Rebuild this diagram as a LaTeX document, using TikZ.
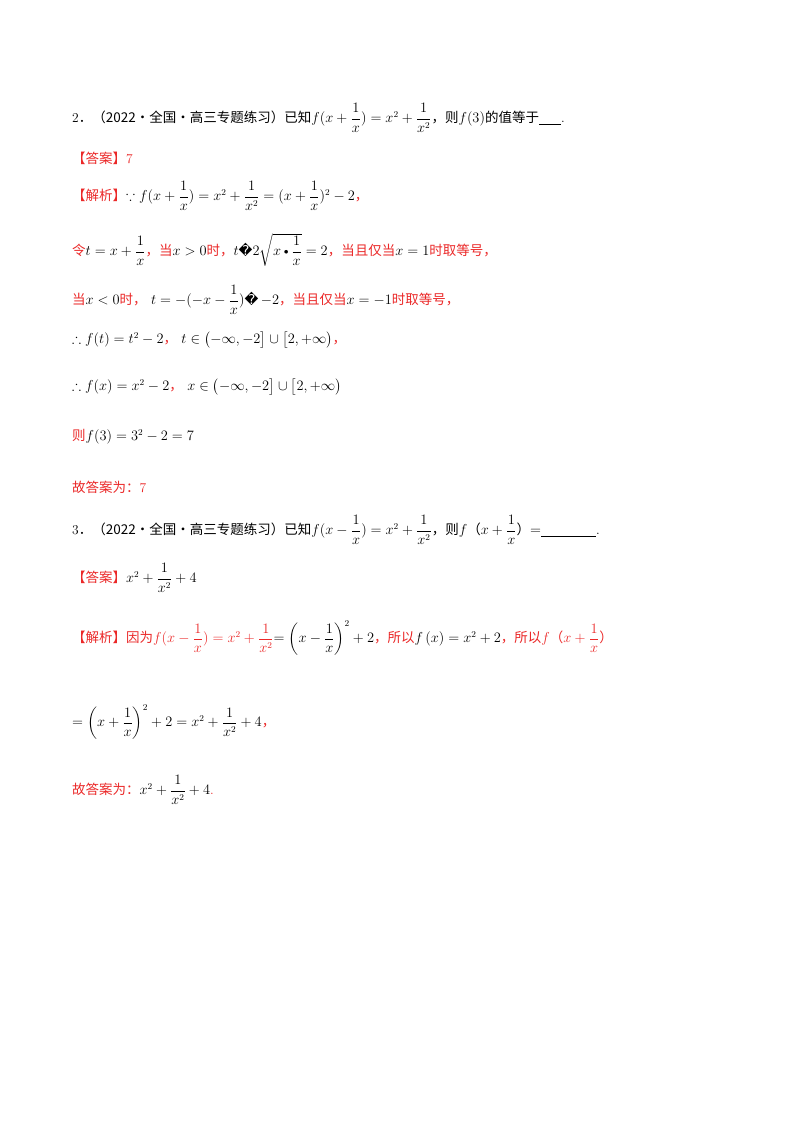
\documentclass[tikz,border=0pt]{standalone}
\usepackage{amsmath,amssymb}
\usepackage{fontspec}
\newfontfamily\cjk{Noto Sans CJK SC}
\newfontfamily\dv{DejaVu Sans}
\definecolor{ans}{RGB}{235,40,40}
\newcommand{\zh}[1]{{\cjk #1}}
\begin{document}
\begin{tikzpicture}[x=1pt,y=-1pt,
  ln/.style={anchor=west,inner sep=0pt,font=\fontsize{13.5}{16}\selectfont},
  rd/.style={ln,text=ans}]
\useasboundingbox[fill=white] (0,0) rectangle (800,1132);
\node[ln] (l1) at (72,118) {2\zh{．（2022·全国·高三专题练习）已知}$f(x+\dfrac1x)=x^2+\dfrac1{x^2}$\zh{，则}$f(3)$\zh{的值等于}\underline{\hspace{22pt}}.};
\node[rd] (l2) at (72,158) {\zh{【答案】}7};
\node[rd] (l3) at (72,196) {\zh{【解析】}\textcolor{black}{$\because f(x+\dfrac1x)=x^2+\dfrac1{x^2}=(x+\dfrac1x)^2-2$}\zh{，}};
\node[rd] (l4) at (72,250) {\zh{令}\textcolor{black}{$t=x+\dfrac1x$}\zh{，当}\textcolor{black}{$x>0$}\zh{时，}\textcolor{black}{$t${\dv �}$2\sqrt{x\mbox{\textbullet}\dfrac1x}=2$}\zh{，当且仅当}\textcolor{black}{$x=1$}\zh{时取等号，}};
\node[rd] (l5) at (72,300) {\zh{当}\textcolor{black}{$x<0$}\zh{时，}\ \textcolor{black}{$t=-(-x-\dfrac1x)${\dv �}$\,-2$}\zh{，当且仅当}\textcolor{black}{$x=-1$}\zh{时取等号，}};
\node[ln] (l6) at (72,340) {$\therefore f(t)=t^2-2$\textcolor{ans}{\zh{，}}\ $t\in\bigl(-\infty,-2\bigr]\cup\bigl[2,+\infty\bigr)$\textcolor{ans}{\zh{，}}};
\node[ln] (l7) at (72,387) {$\therefore f(x)=x^2-2$\textcolor{ans}{\zh{，}}\ $x\in\bigl(-\infty,-2\bigr]\cup\bigl[2,+\infty\bigr)$};
\node[rd] (l8) at (72,437) {\zh{则}\textcolor{black}{$f(3)=3^2-2=7$}};
\node[rd] (l9) at (72,487) {\zh{故答案为：}7};
\node[ln] (m1) at (72,530) {3\zh{．（2022·全国·高三专题练习）已知}$f(x-\dfrac1x)=x^2+\dfrac1{x^2}$\zh{，则}$f$\zh{（}$x+\dfrac1x$\zh{）}$=$\underline{\hspace{55pt}}.};
\node[rd] (m2) at (72,578) {\zh{【答案】}\textcolor{black}{$x^2+\dfrac1{x^2}+4$}};
\node[rd] (m3) at (72,638) {\zh{【解析】因为}$f(x-\dfrac1x)=x^2+\dfrac1{x^2}$\textcolor{black}{$=\left(x-\dfrac1x\right)^2+2$}\zh{，所以}\textcolor{black}{$f\left(x\right)=x^2+2$}\zh{，所以}$f$\zh{（}$x+\dfrac1x$\zh{）}};
\node[ln] (m4) at (72,722) {$=\left(x+\dfrac1x\right)^2+2=x^2+\dfrac1{x^2}+4$\textcolor{ans}{\zh{，}}};
\node[rd] (m5) at (72,790) {\zh{故答案为：}\textcolor{black}{$x^2+\dfrac1{x^2}+4$}.};
\end{tikzpicture}
\end{document}
